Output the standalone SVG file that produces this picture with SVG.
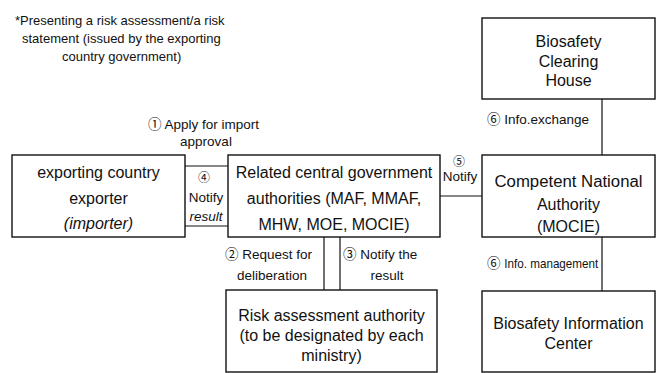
<svg xmlns="http://www.w3.org/2000/svg" width="661" height="373" viewBox="0 0 661 373">
<style>
text{font-family:"Liberation Sans","Noto Sans CJK JP",sans-serif;fill:#111}
.b{font-size:16px;text-anchor:middle}
.t{font-size:13px}
.l{font-size:13.5px}
.lc{font-size:13.5px;text-anchor:middle}
.n{font-size:12px;text-anchor:middle}
rect{fill:#fff;stroke:#111;stroke-width:1.4}
.c line{stroke:#111;stroke-width:1.2}
</style>
<rect x="0" y="0" width="661" height="373" style="stroke:none;fill:#fff"/>
<g id="note">
<text class="t" x="15" y="25">*Presenting a risk assessment/a risk</text>
<text class="t" x="22" y="43">statement (issued by the exporting</text>
<text class="t" x="62" y="61">country government)</text>
</g>
<g class="c" id="connectors">
<line x1="185" y1="166" x2="228" y2="166"/>
<line x1="185" y1="226" x2="228" y2="226"/>
<line x1="440" y1="196" x2="482" y2="196"/>
<line x1="324" y1="237" x2="324" y2="290"/>
<line x1="340" y1="237" x2="340" y2="290"/>
<line x1="602" y1="99" x2="602" y2="155"/>
<line x1="602" y1="237" x2="602" y2="291"/>
</g>
<g id="exporter">
<rect x="12" y="155" width="173" height="82"/>
<text class="b" x="98.5" y="178">exporting country</text>
<text class="b" x="98.5" y="204">exporter</text>
<text class="b" x="98.5" y="229" font-style="italic">(importer)</text>
</g>
<g id="central">
<rect x="228" y="155" width="212" height="82"/>
<text class="b" x="334" y="178">Related central government</text>
<text class="b" x="334" y="204">authorities (MAF, MMAF,</text>
<text class="b" x="334" y="230">MHW, MOE, MOCIE)</text>
</g>
<g id="risk">
<rect x="226" y="290" width="211" height="82"/>
<text class="b" x="331.5" y="321">Risk assessment authority</text>
<text class="b" x="331.5" y="341">(to be designated by each</text>
<text class="b" x="331.5" y="361">ministry)</text>
</g>
<g id="bch">
<rect x="482" y="18" width="173" height="81"/>
<text class="b" x="568.5" y="47">Biosafety</text>
<text class="b" x="568.5" y="67">Clearing</text>
<text class="b" x="568.5" y="86">House</text>
</g>
<g id="cna">
<rect x="482" y="155" width="173" height="82"/>
<text class="b" x="568.5" y="187" textLength="148" lengthAdjust="spacingAndGlyphs">Competent National</text>
<text class="b" x="568.5" y="210">Authority</text>
<text class="b" x="568.5" y="232">(MOCIE)</text>
</g>
<g id="bic">
<rect x="482" y="291" width="173" height="81"/>
<text class="b" x="568.5" y="329">Biosafety Information</text>
<text class="b" x="568.5" y="349">Center</text>
</g>
<g id="labels">
<text class="l" x="148" y="129">① Apply for import</text>
<text class="lc" x="206" y="146">approval</text>
<text class="n" x="204" y="182">④</text>
<text class="lc" x="206" y="202">Notify</text>
<text class="lc" x="206" y="221" font-style="italic">result</text>
<text class="n" x="459" y="166">⑤</text>
<text class="lc" x="460" y="181">Notify</text>
<text class="l" x="225" y="259">② Request for</text>
<text class="lc" x="272" y="280">deliberation</text>
<text class="l" x="343" y="259">③ Notify the</text>
<text class="lc" x="387" y="280">result</text>
<text class="l" x="487" y="124">⑥ Info.exchange</text>
<text class="l" x="487" y="268">⑥ <tspan textLength="94" lengthAdjust="spacingAndGlyphs">Info. management</tspan></text>
</g>
</svg>
